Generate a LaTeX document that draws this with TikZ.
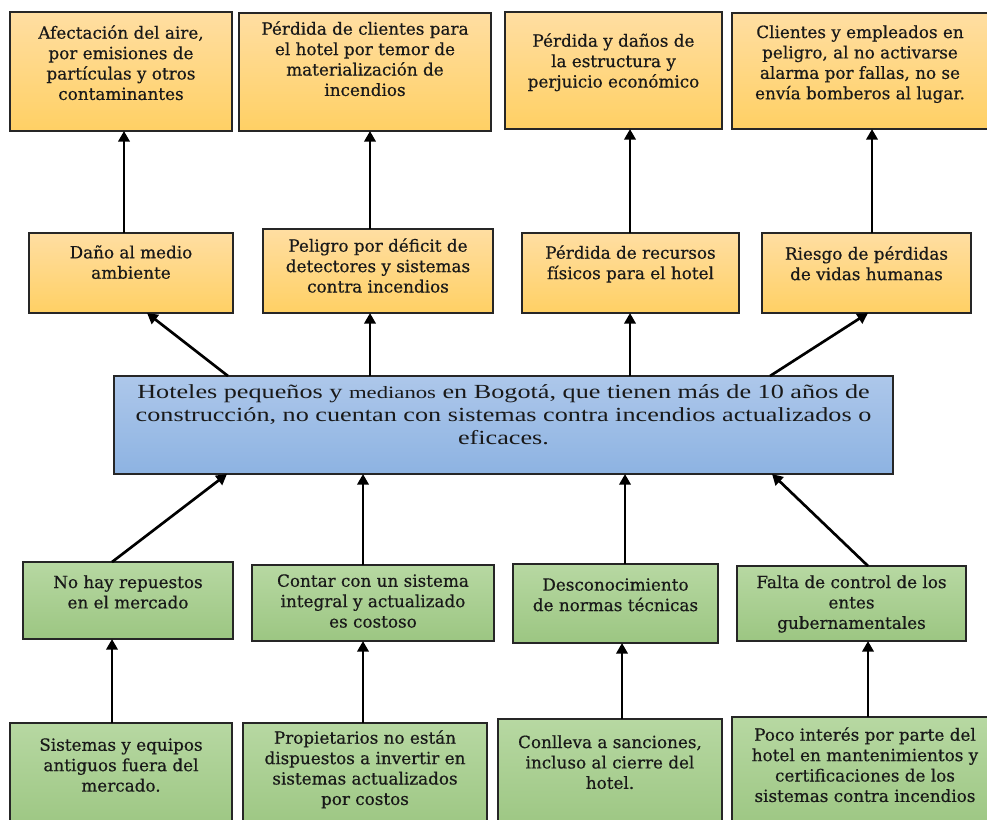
\documentclass[tikz,border=0pt]{standalone}
\usepackage{fontspec}
\setmainfont{Liberation Serif}
\newfontfamily\boxfont[FakeBold=0.5]{DejaVu Serif}
\newfontfamily\corefont[FakeStretch=1.31]{Liberation Serif}
\usetikzlibrary{arrows.meta}
\definecolor{orTop}{HTML}{FFDEA2}
\definecolor{orBot}{HTML}{FFD064}
\definecolor{grTop}{HTML}{B7D8A2}
\definecolor{grBot}{HTML}{9CC682}
\definecolor{blTop}{HTML}{ADC7EA}
\definecolor{blBot}{HTML}{8DB3E2}
\tikzset{
  boxbase/.style={draw=black!85, line width=1pt, inner sep=0pt, outer sep=0pt, anchor=north west},
  effect/.style={boxbase, top color=orTop, bottom color=orBot},
  cause/.style={boxbase, top color=grTop, bottom color=grBot},
  core/.style={boxbase, top color=blTop, bottom color=blBot},
  lbl/.style={anchor=north, align=center, inner sep=0pt, text=black!90, font=\boxfont\fontsize{12.6}{15.3}\selectfont},
  corelbl/.style={anchor=north, align=center, inner sep=0pt, text=black!90, font=\corefont\fontsize{15}{17.3}\selectfont},
  arr/.style={line width=2pt, -{Triangle[length=8pt,width=8.5pt]}},
}
\newcommand\mkbox[6]{\node[#1, minimum width={(#5-#3)*0.75pt}, minimum height={(#6-#4)*0.75pt}] (#2) at (#3,#4) {};}
\begin{document}
\begin{tikzpicture}[x=0.75pt,y=-0.75pt]
\useasboundingbox (0,0) rectangle (987,819);
\clip (0,0) rectangle (987,819);
\fill[white] (0,0) rectangle (987,819);
% coordinates for connector x positions
\foreach \cx in {112,124,147,227,228,363,370,622,625,630,770,772,868,872}{\coordinate (c\cx) at (\cx,0);}
% effects row 1
\mkbox{effect}{b1}{10}{12}{232}{131}
\mkbox{effect}{b2}{239}{13}{491}{131}
\mkbox{effect}{b3}{505}{12}{722}{129}
\mkbox{effect}{b4}{732}{13}{988}{129}
% effects row 2
\mkbox{effect}{b5}{29}{233}{233}{313}
\mkbox{effect}{b6}{263}{229}{493}{313}
\mkbox{effect}{b7}{522}{233}{739}{313}
\mkbox{effect}{b8}{762}{233}{971}{313}
% core
\mkbox{core}{core}{114}{376}{893}{474}
% causes row 3
\mkbox{cause}{b9}{23}{562}{233}{639}
\mkbox{cause}{b10}{252}{565}{494}{641}
\mkbox{cause}{b11}{513}{564}{718}{643}
\mkbox{cause}{b12}{737}{566}{966}{641}
% causes row 4
\mkbox{cause}{b13}{10}{723}{232}{830}
\mkbox{cause}{b14}{243}{723}{487}{830}
\mkbox{cause}{b15}{498}{719}{722}{830}
\mkbox{cause}{b16}{732}{717}{998}{830}
% texts
\node[lbl] (t1) at (121,25) {Afectación del aire,\\por emisiones de\\partículas y otros\\contaminantes};
\node[lbl] (t2) at (365,21) {Pérdida de clientes para\\el hotel por temor de\\materialización de\\incendios};
\node[lbl] (t3) at (613.5,33) {Pérdida y daños de\\la estructura y\\perjuicio económico};
\node[lbl] (t4) at (860,25) {Clientes y empleados en\\peligro, al no activarse\\alarma por fallas, no se\\envía bomberos al lugar.};
\node[lbl] (t5) at (131,245) {Daño al medio\\ambiente};
\node[lbl] (t6) at (378,238) {Peligro por déficit de\\detectores y sistemas\\contra incendios};
\node[lbl] (t7) at (630.5,245) {Pérdida de recursos\\físicos para el hotel};
\node[lbl] (t8) at (866.5,246) {Riesgo de pérdidas\\de vidas humanas};
\node[corelbl] (tc) at (503.5,384) {Hoteles pequeños y {\fontsize{13}{17.3}\selectfont medianos} en Bogotá, que tienen más de 10 años de\\construcción, no cuentan con sistemas contra incendios actualizados o\\eficaces.};
\node[lbl] (t9) at (128,575) {No hay repuestos\\en el mercado};
\node[lbl] (t10) at (373,574) {Contar con un sistema\\integral y actualizado\\es costoso};
\node[lbl] (t11) at (615.5,578) {Desconocimiento\\de normas técnicas};
\node[lbl] (t12) at (851.5,575) {Falta de control de los\\entes\\gubernamentales};
\node[lbl] (t13) at (121,738) {Sistemas y equipos\\antiguos fuera del\\mercado.};
\node[lbl] (t14) at (365,730) {Propietarios no están\\dispuestos a invertir en\\sistemas actualizados\\por costos};
\node[lbl] (t15) at (610,735) {Conlleva a sanciones,\\incluso al cierre del\\hotel.};
\node[lbl] (t16) at (865,727) {Poco interés por parte del\\hotel en mantenimientos y\\certificaciones de los\\sistemas contra incendios};
% connectors row2 -> row1
\draw[arr] (b5.north -| c124) -- (b1.south -| c124);
\draw[arr] (b6.north -| c370) -- (b2.south -| c370);
\draw[arr] (b7.north -| c630) -- (b3.south -| c630);
\draw[arr] (b8.north -| c872) -- (b4.south -| c872);
% core -> row2
\draw[arr] (core.north -| c228) -- (b5.south -| c147);
\draw[arr] (core.north -| c370) -- (b6.south -| c370);
\draw[arr] (core.north -| c630) -- (b7.south -| c630);
\draw[arr] (core.north -| c770) -- (b8.south -| c868);
% row3 -> core
\draw[arr] (b9.north -| c112) -- (core.south -| c227);
\draw[arr] (b10.north -| c363) -- (core.south -| c363);
\draw[arr] (b11.north -| c625) -- (core.south -| c625);
\draw[arr] (b12.north -| c868) -- (core.south -| c772);
% row4 -> row3
\draw[arr] (b13.north -| c112) -- (b9.south -| c112);
\draw[arr] (b14.north -| c363) -- (b10.south -| c363);
\draw[arr] (b15.north -| c622) -- (b11.south -| c622);
\draw[arr] (b16.north -| c868) -- (b12.south -| c868);
\end{tikzpicture}
\end{document}
